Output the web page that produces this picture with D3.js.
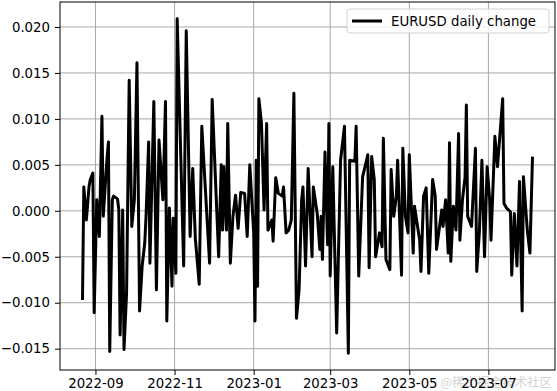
<!DOCTYPE html>
<html>
<head>
<meta charset="utf-8">
<script src="https://cdn.jsdelivr.net/npm/d3@7"></script>
<style>
  body { margin: 0; background: #fff; }
  svg { display: block; font-family: "DejaVu Sans", sans-serif; }
</style>
</head>
<body>
<svg id="chart" width="557" height="391"></svg>
<script>
// EURUSD daily change
const seriesName = "EURUSD daily change";

const dates = [
  "2022-08-22","2022-08-23","2022-08-25","2022-08-27","2022-08-28","2022-08-30","2022-08-31",
  "2022-09-02","2022-09-04","2022-09-06","2022-09-07","2022-09-10","2022-09-11","2022-09-12",
  "2022-09-14","2022-09-15","2022-09-18","2022-09-19","2022-09-20","2022-09-22","2022-09-23",
  "2022-09-25","2022-09-27","2022-09-29","2022-10-01","2022-10-03","2022-10-05","2022-10-07",
  "2022-10-09","2022-10-10","2022-10-12","2022-10-13","2022-10-16","2022-10-18","2022-10-20",
  "2022-10-23","2022-10-25","2022-10-26","2022-10-28","2022-10-30","2022-10-31","2022-11-02",
  "2022-11-03","2022-11-08","2022-11-10","2022-11-13","2022-11-15","2022-11-17","2022-11-20",
  "2022-11-22","2022-11-28","2022-11-30","2022-12-05","2022-12-07","2022-12-08","2022-12-09",
  "2022-12-11","2022-12-12","2022-12-14","2022-12-16","2022-12-18","2022-12-20","2022-12-22",
  "2022-12-25","2022-12-27","2022-12-29","2023-01-01","2023-01-02","2023-01-03","2023-01-04",
  "2023-01-05","2023-01-07","2023-01-09","2023-01-11","2023-01-12","2023-01-15","2023-01-16",
  "2023-01-18","2023-01-20","2023-01-23","2023-01-24","2023-01-26","2023-01-28","2023-01-30",
  "2023-02-01","2023-02-03","2023-02-05","2023-02-07","2023-02-08","2023-02-10","2023-02-12",
  "2023-02-15","2023-02-16","2023-02-19","2023-02-21","2023-02-22","2023-02-23","2023-02-25",
  "2023-02-27","2023-02-28","2023-03-01","2023-03-03","2023-03-06","2023-03-09","2023-03-12",
  "2023-03-15","2023-03-16","2023-03-20","2023-03-21","2023-03-23","2023-03-26","2023-03-30",
  "2023-03-31","2023-04-02","2023-04-04","2023-04-05","2023-04-08","2023-04-10","2023-04-11",
  "2023-04-13","2023-04-16","2023-04-17","2023-04-19","2023-04-21","2023-04-22","2023-04-25",
  "2023-04-26","2023-04-28","2023-04-30","2023-05-01","2023-05-04","2023-05-05","2023-05-09",
  "2023-05-10","2023-05-12","2023-05-14","2023-05-16","2023-05-19","2023-05-21","2023-05-22",
  "2023-05-26","2023-05-27","2023-05-29","2023-05-31","2023-06-01","2023-06-02","2023-06-04",
  "2023-06-06","2023-06-08","2023-06-09","2023-06-11","2023-06-13","2023-06-14","2023-06-15",
  "2023-06-18","2023-06-21","2023-06-22","2023-06-24","2023-06-26","2023-06-28","2023-06-30",
  "2023-07-02","2023-07-03","2023-07-06","2023-07-08","2023-07-12","2023-07-13","2023-07-15",
  "2023-07-18","2023-07-19","2023-07-21","2023-07-23","2023-07-25","2023-07-27","2023-07-28",
  "2023-07-31","2023-08-02","2023-08-04"
];

const changes = [
  -0.0097, 0.0026, -0.0010, 0.0026, 0.0034, 0.0041, -0.0111,
  0.0012, -0.0028, 0.0103, -0.0006, 0.0059, 0.0075, -0.0153,
  0.0012, 0.0016, 0.0013, 0.0001, -0.0135, 0.0001, -0.0151,
  -0.0089, 0.0142, -0.0017, 0.0012, 0.0161, -0.0109, -0.0060,
  -0.0035, -0.0006, 0.0075, -0.0057, 0.0119, -0.0086, 0.0077,
  0.0012, 0.0119, -0.0120, 0.0003, -0.0082, -0.0008, -0.0068,
  0.0209, -0.0060, 0.0196, -0.0028, 0.0046, -0.0030, -0.0080,
  0.0092, -0.0057, 0.0121, -0.0050, 0.0050, -0.0021, 0.0048,
  -0.0021, 0.0095, -0.0057, -0.0006, 0.0017, -0.0019, 0.0020,
  0.0019, -0.0028, 0.0050, -0.0024, -0.0120, 0.0055, -0.0082,
  0.0122, 0.0095, 0.0001, 0.0095, -0.0021, -0.0010, -0.0033,
  0.0036, 0.0019, 0.0016, 0.0026, -0.0024, -0.0021, -0.0010,
  0.0128, -0.0117, -0.0086, 0.0012, 0.0026, -0.0060, 0.0046,
  -0.0050, 0.0026, -0.0003, -0.0042, -0.0006, -0.0053, 0.0064,
  -0.0037, 0.0095, -0.0071, 0.0048, -0.0133, 0.0055, 0.0092,
  -0.0155, 0.0055, 0.0054, 0.0092, -0.0071, 0.0037, 0.0061,
  -0.0062, 0.0059, 0.0034, -0.0050, -0.0024, -0.0039, 0.0079,
  -0.0053, -0.0064, 0.0045, -0.0006, 0.0016, 0.0055, -0.0070,
  0.0068, -0.0006, -0.0024, 0.0061, -0.0046, 0.0005, -0.0032,
  -0.0066, 0.0016, 0.0025, -0.0068, 0.0034, 0.0016, -0.0042,
  0.0001, -0.0017, 0.0012, -0.0046, 0.0074, -0.0055, 0.0005,
  -0.0021, 0.0084, -0.0032, 0.0012, 0.0037, 0.0115, -0.0006,
  -0.0017, 0.0068, -0.0066, -0.0024, 0.0055, -0.0050, 0.0048,
  0.0012, -0.0032, 0.0081, 0.0048, 0.0122, 0.0008, 0.0003,
  -0.0001, -0.0070, -0.0003, -0.0060, 0.0032, -0.0109, 0.0037,
  -0.0021, -0.0046, 0.0059
];

const yTicks = [-0.015, -0.010, -0.005, 0.000, 0.005, 0.010, 0.015, 0.020];
const xTicks = ["2022-09-01", "2022-11-01", "2023-01-01", "2023-03-01", "2023-05-01", "2023-07-01"];
const watermark = "@稀土掘金技术社区";

const width = 557, height = 391;
const margin = {top: 2, right: 2, bottom: 21, left: 60};
const parse = d3.timeParse("%Y-%m-%d");

const data = dates.map((d, i) => ({date: parse(d), value: changes[i]}));

// 5% padding on each side, like matplotlib's default margins
function padded(ext) {
  const p = (ext[1] - ext[0]) * 0.05;
  return [ext[0] - p, ext[1] + p];
}
const xExt = d3.extent(data, d => +d.date);
const x = d3.scaleTime()
  .domain(padded(xExt).map(t => new Date(t)))
  .range([margin.left, width - margin.right]);
const y = d3.scaleLinear()
  .domain(padded(d3.extent(changes)))
  .range([height - margin.bottom, margin.top]);

const svg = d3.select("#chart");
const fontSize = 13.3;

// grid
svg.append("g")
  .selectAll("line.gx")
  .data(xTicks.map(parse))
  .join("line")
  .attr("x1", d => x(d)).attr("x2", d => x(d))
  .attr("y1", margin.top).attr("y2", height - margin.bottom)
  .attr("stroke", "#a8a8a8").attr("stroke-width", 1);
svg.append("g")
  .selectAll("line.gy")
  .data(yTicks)
  .join("line")
  .attr("x1", margin.left).attr("x2", width - margin.right)
  .attr("y1", d => y(d)).attr("y2", d => y(d))
  .attr("stroke", "#a8a8a8").attr("stroke-width", 1);

// the series
const line = d3.line()
  .x(d => x(d.date))
  .y(d => y(d.value));
svg.append("path")
  .datum(data)
  .attr("fill", "none")
  .attr("stroke", "#000")
  .attr("stroke-width", 3)
  .attr("stroke-linejoin", "round")
  .attr("d", line);

// axes
const xAxis = d3.axisBottom(x)
  .tickValues(xTicks.map(parse))
  .tickFormat(d3.timeFormat("%Y-%m"))
  .tickSize(5).tickPadding(4);
const yAxis = d3.axisLeft(y)
  .tickValues(yTicks)
  .tickFormat(d3.format(".3f"))
  .tickSize(5).tickPadding(5);

const gx = svg.append("g")
  .attr("transform", `translate(0,${height - margin.bottom})`)
  .call(xAxis);
const gy = svg.append("g")
  .attr("transform", `translate(${margin.left},0)`)
  .call(yAxis);
[gx, gy].forEach(g => {
  g.select(".domain").remove();
  g.selectAll(".tick line").attr("stroke", "#000").attr("stroke-width", 1);
  g.selectAll(".tick text")
    .attr("fill", "#000")
    .attr("font-size", fontSize)
    .attr("font-family", "DejaVu Sans");
});

// frame
svg.append("rect")
  .attr("x", margin.left).attr("y", margin.top)
  .attr("width", width - margin.right - margin.left)
  .attr("height", height - margin.bottom - margin.top)
  .attr("fill", "none").attr("stroke", "#000").attr("stroke-width", 1);

// legend
const lgW = 202, lgH = 24;
const lgX = width - margin.right - 6 - lgW, lgY = margin.top + 7;
const lg = svg.append("g");
lg.append("rect")
  .attr("x", lgX).attr("y", lgY)
  .attr("width", lgW).attr("height", lgH)
  .attr("rx", 3)
  .attr("fill", "#fff").attr("fill-opacity", 0.8)
  .attr("stroke", "#d0d0d0").attr("stroke-width", 1);
lg.append("line")
  .attr("x1", lgX + 5).attr("x2", lgX + 35)
  .attr("y1", lgY + lgH / 2).attr("y2", lgY + lgH / 2)
  .attr("stroke", "#000").attr("stroke-width", 3);
lg.append("text")
  .attr("x", lgX + 44).attr("y", lgY + lgH / 2)
  .attr("dy", "0.35em")
  .attr("font-size", fontSize)
  .text(seriesName);

// watermark, drawn under the last tick label as in the picture
svg.insert("text", ":first-child")
  .attr("x", width - 5).attr("y", height - 4)
  .attr("text-anchor", "end")
  .attr("font-family", "Noto Sans CJK SC")
  .attr("font-size", 12.5)
  .attr("fill", "#d4d4d4")
  .text(watermark);
</script>
</body>
</html>
